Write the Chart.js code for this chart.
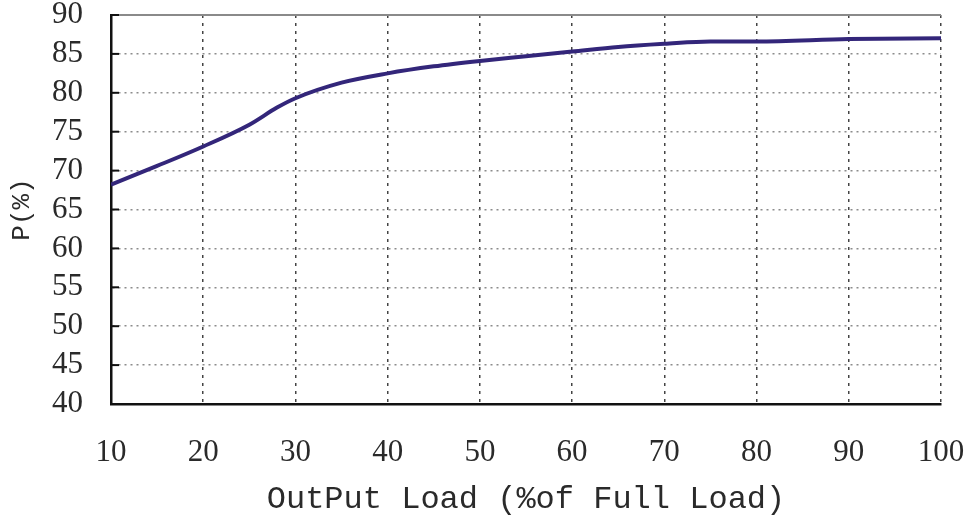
<!DOCTYPE html>
<html>
<head>
<meta charset="utf-8">
<script src="https://cdn.jsdelivr.net/npm/chart.js@4.4.1/dist/chart.umd.min.js"></script>
<style>
  html, body { margin: 0; padding: 0; background: #ffffff; }
  #wrap { width: 971px; height: 524px; position: relative; }
</style>
</head>
<body>
<div id="wrap"><canvas id="c" width="971" height="524"></canvas></div>
<script>
// ---- data ----
const loadPercent = [10, 15, 20, 25, 28, 30, 35, 40, 45, 50, 55, 60, 65, 70, 75, 80, 90, 100];
const efficiency  = [68.2, 70.6, 73.1, 75.9, 78.1, 79.3, 81.3, 82.5, 83.4, 84.1, 84.7, 85.3, 85.9, 86.3, 86.6, 86.6, 86.9, 87.0];
const xTickValues = [10, 20, 30, 40, 50, 60, 70, 80, 90, 100];
const yTickValues = [40, 45, 50, 55, 60, 65, 70, 75, 80, 85, 90];
const xTitle = 'OutPut Load (%of Full Load)';
const yTitle = 'P(%)';

const points = loadPercent.map((x, i) => ({ x: x, y: efficiency[i] }));

const frame = {
  id: 'frame',
  afterDatasetsDraw(chart) {
    const { ctx, chartArea, scales } = chart;
    ctx.save();
    ctx.strokeStyle = '#8a8a8a';
    ctx.lineWidth = 2;
    ctx.beginPath();
    ctx.moveTo(chartArea.left, chartArea.top);
    ctx.lineTo(chartArea.right, chartArea.top);
    ctx.stroke();
    ctx.strokeStyle = '#111';
    ctx.lineWidth = 2;
    yTickValues.forEach(v => {
      const py = scales.y.getPixelForValue(v);
      ctx.beginPath();
      ctx.moveTo(chartArea.left, py);
      ctx.lineTo(chartArea.left + 8, py);
      ctx.stroke();
    });
    ctx.restore();
  }
};

new Chart(document.getElementById('c'), {
  type: 'line',
  data: {
    datasets: [{
      data: points,
      borderColor: '#33267a',
      borderWidth: 4,
      pointRadius: 0,
      tension: 0.35,
      cubicInterpolationMode: 'monotone',
      fill: false
    }]
  },
  options: {
    responsive: false,
    animation: false,
    devicePixelRatio: 1,
    layout: { padding: { top: 15, right: 30, bottom: 0, left: 0 } },
    plugins: { legend: { display: false }, tooltip: { enabled: false } },
    scales: {
      x: {
        type: 'linear',
        min: 10, max: 100,
        afterBuildTicks: s => { s.ticks = xTickValues.map(v => ({ value: v })); },
        afterFit: s => { s.height = 120; s.paddingLeft = 0; s.paddingRight = 0; },
        grid: { color: '#444', lineWidth: 1.5, drawTicks: false },
        border: { color: '#111', width: 2.5, dash: [3, 5] },
        ticks: {
          padding: 30,
          autoSkip: false,
          maxRotation: 0,
          color: '#2a2a2a',
          font: { family: '"Liberation Serif", serif', size: 31 }
        },
        title: {
          display: true,
          text: xTitle,
          color: '#2a2a2a',
          padding: { top: 0, bottom: 5 },
          font: { family: '"Liberation Mono", monospace', size: 32 }
        }
      },
      y: {
        type: 'linear',
        min: 40, max: 90,
        afterBuildTicks: s => { s.ticks = yTickValues.map(v => ({ value: v })); },
        afterFit: s => { s.width = 111; s.paddingTop = 0; s.paddingBottom = 0; },
        grid: {
          color: ctx => (ctx.tick && (ctx.tick.value === 90 || ctx.tick.value === 40)) ? 'rgba(0,0,0,0)' : '#8c8c8c',
          lineWidth: 1.5,
          drawTicks: false
        },
        border: { color: '#111', width: 2.5, dash: [2, 4] },
        ticks: {
          padding: 28,
          autoSkip: false,
          color: '#2a2a2a',
          font: { family: '"Liberation Serif", serif', size: 31 }
        },
        title: {
          display: true,
          text: yTitle,
          color: '#2a2a2a',
          padding: { top: 7, bottom: 0 },
          font: { family: '"Liberation Mono", monospace', size: 26 }
        }
      }
    }
  },
  plugins: [frame]
});
</script>
</body>
</html>
